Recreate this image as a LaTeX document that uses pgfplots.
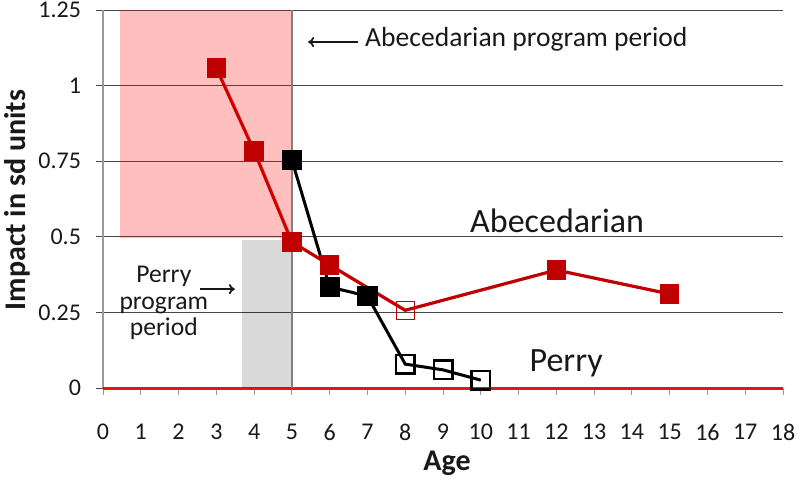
\documentclass[border=0pt]{standalone}
\usepackage{fontspec}
\setmainfont{Carlito}
\usepackage{pgfplots}
\pgfplotsset{compat=1.18}
\usetikzlibrary{arrows.meta,calc}
\definecolor{abcred}{RGB}{192,0,0}
\definecolor{zerored}{RGB}{232,20,20}
\definecolor{gridc}{RGB}{70,70,70}
\definecolor{txt}{RGB}{25,25,25}
\begin{document}
\begin{tikzpicture}
\begin{axis}[
 scale only axis, width=340pt, height=189pt,
 xmin=0, xmax=18, ymin=0, ymax=1.25,
 axis lines*=left,
 axis line style={draw=gray!80, line width=0.6pt},
 xtick={0,...,18},
 ytick={0,0.25,0.5,0.75,1,1.25},
 yticklabels={0,0.25,0.5,0.75,1,1.25},
 /pgf/number format/assume math mode=true,
 ymajorgrids, grid style={gridc, line width=0.5pt},
 tick align=outside,
 major tick length=3.5pt,
 x tick style={gray!80, line width=0.5pt},
 y tick style={gridc, line width=0.5pt},
 tick label style={font=\fontsize{12}{14}\selectfont, text=txt},
 xticklabel style={yshift=-11pt},
 yticklabel style={xshift=-4pt},
 xlabel={Age}, ylabel={Impact in sd units},
 label style={font=\bfseries\fontsize{15}{18}\selectfont, text=txt},
 xlabel style={at={(axis description cs:0.506,-0.217)}, anchor=base},
 ylabel style={at={(axis description cs:-0.1265,0.497)}, anchor=center},
 clip=false,
]
% zero line
\addplot[zerored, line width=1.5pt] coordinates {(0,0) (18,0)};
% Abecedarian
\addplot[abcred, line width=1.6pt] coordinates {(3,1.058) (4,0.784) (5,0.483) (6,0.407) (8,0.257) (12,0.39) (15,0.311)};
\addplot[only marks, mark=square*, mark size=4.6pt, abcred, mark options={fill=abcred, line width=0.5pt}] coordinates {(3,1.058) (4,0.784) (5,0.483) (6,0.407) (12,0.39) (15,0.311)};
\addplot[only marks, mark=square, mark size=4.6pt, abcred, mark options={line width=0.5pt}] coordinates {(8,0.257)};
% Perry
\addplot[black, line width=1.5pt] coordinates {(5,0.754) (6,0.334) (7,0.304) (8,0.079) (9,0.06) (10,0.026)};
\addplot[only marks, mark=square*, mark size=4.8pt, black, mark options={fill=black, line width=0.5pt}] coordinates {(5,0.754) (6,0.334) (7,0.304)};
\addplot[only marks, mark=square, mark size=4.6pt, black, mark options={line width=1.3pt}] coordinates {(8,0.079) (9,0.06) (10,0.026)};
% program periods
\addplot[draw=none, fill=red, fill opacity=0.25] coordinates {(0.45,0.496) (5,0.496) (5,1.25) (0.45,1.25)} -- cycle;
\addplot[draw=none, fill=black, fill opacity=0.15] coordinates {(3.68,0) (5,0) (5,0.489) (3.68,0.489)} -- cycle;
\addplot[gray, line width=0.8pt] coordinates {(5,0) (5,1.25)};
% annotations
\draw[-{To[length=3pt,width=5pt]}, line width=0.9pt, txt] (axis cs:6.75,1.144) -- (axis cs:5.43,1.144);
\node[anchor=base west, text=txt, font=\fontsize{13.8}{15}\selectfont, inner sep=0pt] at (axis cs:6.93,1.128) {Abecedarian program period};
\node[anchor=base, text=txt, font=\fontsize{17}{20}\selectfont, inner sep=0pt] at (axis cs:12.02,0.5126) {Abecedarian};
\node[anchor=base, text=txt, font=\fontsize{17}{20}\selectfont, inner sep=0pt] at (axis cs:12.26,0.053) {Perry};
\draw[-{To[length=3pt,width=5pt]}, line width=0.9pt, txt] (axis cs:2.57,0.327) -- (axis cs:3.49,0.327);
\node[anchor=center, align=center, text=txt, font=\fontsize{12.8}{13.2}\selectfont, inner sep=0pt] at (axis cs:1.61,0.281) {Perry\\program\\period};
\end{axis}
\pgfresetboundingbox
\path[use as bounding box] ($(current axis.south west)+(-51.5pt,-47.5pt)$) rectangle ($(current axis.north east)+(8.5pt,5pt)$);
\end{tikzpicture}
\end{document}
